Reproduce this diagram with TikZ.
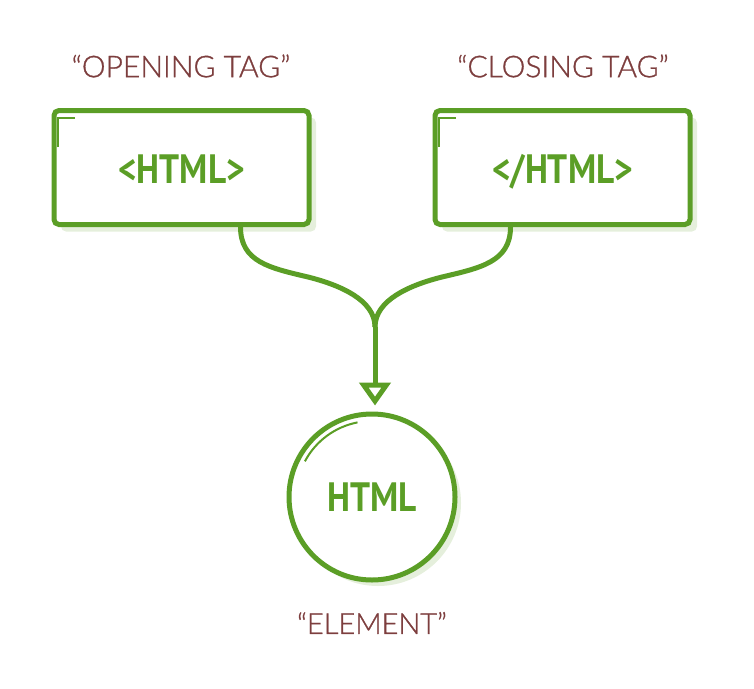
\documentclass[tikz,border=0pt]{standalone}
\usepackage{fontspec}
\usetikzlibrary{calc,shadows,arrows.meta}
\newfontfamily\tagfont{PT Sans}[FakeStretch=0.86]
\newfontfamily\capfont{Lato Light}[FakeBold=1]
\definecolor{leaf}{RGB}{91,158,38}
\definecolor{leafshade}{RGB}{229,239,220}
\definecolor{wine}{RGB}{125,62,62}

\begin{document}
\begin{tikzpicture}[x=1pt,y=-1pt,
    tagbox/.style={draw=leaf, line width=5pt, fill=white, rounded corners=5pt,
      minimum width=255pt, minimum height=114pt, inner sep=0pt,
      text height=32pt, text depth=0pt,
      drop shadow={shadow xshift=7pt, shadow yshift=-7pt, fill=leafshade, opacity=1},
      font=\tagfont\bfseries\fontsize{41}{44}\selectfont, text=leaf},
    elembox/.style={draw=leaf, line width=5pt, fill=white, circle,
      minimum size=166pt, inner sep=0pt, text height=28pt, text depth=0pt,
      drop shadow={shadow xshift=6pt, shadow yshift=-6pt, fill=leafshade, opacity=1},
      font=\tagfont\bfseries\fontsize{41}{44}\selectfont, text=leaf},
    caption/.style={text=wine, font=\capfont\fontsize{30}{32}\selectfont},
    link/.style={draw=leaf, line width=5pt},
    gleam/.style={draw=leaf, line width=2pt}]
    \useasboundingbox (0,0) rectangle (754,688);

    \node (capopen) at (181,66) [caption] {“OPENING TAG”};
    \node (capclose) at (563,66) [caption] {“CLOSING TAG”};
    \node (capelem) at (372,623) [caption] {\fontsize{29}{32}\selectfont“ELEMENT”};

    \node (open) at (181.5,167.5) [tagbox] {<HTML>};
    \node (close) at (562.5,167.5) [tagbox] {</HTML>};
    \node (elem) at (372,497) [elembox] {HTML};

    % little corner marks
    \draw[gleam] ([shift={(6.5,39)}]open.north west) |- ([shift={(23,10)}]open.north west);
    \draw[gleam] ([shift={(6.5,39)}]close.north west) |- ([shift={(23,10)}]close.north west);
    \draw[gleam] ($(elem.center)+(-152:76)$) arc (-152:-101:76);

    \coordinate (merge) at (375,327);
    \draw[link] ([xshift=59pt]open.south) .. controls +(0,35) and (270,268) .. (308,277)
      .. controls (340,285) and (375,300) .. (merge);
    \draw[link] ([xshift=-52pt]close.south) .. controls +(0,35) and (480,268) .. (442,277)
      .. controls (410,285) and (375,300) .. (merge);
    \draw[link, -{Triangle[open, length=23pt, width=31pt]}, shorten >=6pt]
      (merge) -- (merge |- elem.north);
  \end{tikzpicture}
\end{document}
